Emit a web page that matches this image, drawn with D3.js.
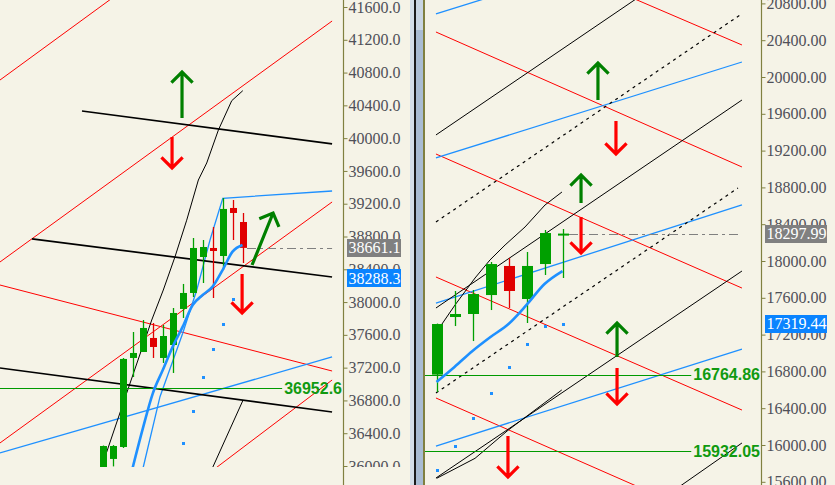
<!DOCTYPE html>
<html><head><meta charset="utf-8">
<script src="https://cdn.jsdelivr.net/npm/d3@7"></script>
<style>body{margin:0;background:#f5f3e7}svg{display:block}</style>
</head><body>
<svg id="c" width="835" height="485"></svg>
<script>
// ---------------- DATA (bar index, price) ----------------
// Left panel candles: [open, high, low, close]
const leftCandles = [
  [35900,36250,35850,36244],[36086,36255,35995,36244],[36232,37318,36220,37306],
  [37318,37635,37086,37379],[37391,37781,37391,37684],[37562,37745,37318,37452],
  [37318,37720,37257,37586],[37476,37928,37135,37867],[37916,38221,37806,38111],
  [38111,38782,38062,38660],[38550,38757,38233,38672],[38660,38916,38050,38623],
  [38562,39270,38391,39136],[39148,39245,38757,39087],[38977,39087,38477,38661.1]
];
const leftMAStart = 2;
const leftMA = [35500,35991,36460,36887,37171,37456,37700,37964,38086,38188,38391,38615,38696];
const leftSARStart = 8;
const leftSAR = [36285,36675,37090,37431,37733,38041];
const leftTicks = [36000,36400,36800,37200,37600,38000,38400,38800,39200,39600,40000,40400,40800,41200,41600];
const leftRedLines = [
  [[-10.34,40709],[1.5,41760]],
  [[-10.34,38489],[22.99,41429]],
  [[-10.34,36281],[22.99,39221]],
  [[10.5,35900],[22.99,37049]],
  [[-10.34,38208],[22.99,37159]]
];
const leftBlackThick = [
  [[-2.11,40331],[22.99,39929]],
  [[-7.13,38770],[22.99,38306]],
  [[-10.34,37196],[22.99,36659]]
];
const leftBlackThin = [
  [[-0.4,35850],[-0.13,35991],[2.38,36891],[4.89,37781],[6.05,38147],[7.23,38554],[8.40,38999],[9.57,39489],[10.41,39697],[11.58,40099],[12.92,40457],[14.03,40579]],
  [[10.7,35900],[14.06,36805]]
];
const leftBlueThin = [
  [[-10.34,36159],[22.99,37330]],
  [[3.7,35800],[4.05,35991],[5.72,36846],[8.0,37619],[9.41,38147],[10.74,38757],[12.02,39266],[22.99,39355]]
];
const leftLevel = 36952.6;
const leftLastPrice = 38661.1;
const leftBluePrice = 38288.3;
const leftLineEnd = 22.99;
const leftUpArrows = [[[7.93,40246],[7.93,40807]],[[14.96,38452],[17.07,39087]]];
const leftDownArrows = [[[6.93,40014],[6.93,39636]],[[13.96,38343],[13.96,37867]]];

// Right panel
const rightCandles = [
  [16764.86,17320,16576,17315],[17391,17674,17293,17424],[17424,17685,17130,17641],
  [17630,17989,17467,17967],[17946,18033,17489,17674],[17587,18098,17326,17946],
  [17967,18337,17848,18304],[18283,18348,17815,18297.99]
];
const rightMA = [16685,16848,17022,17174,17315,17522,17750,17891];
const rightSAR = [15728,15992,16290,16568,16851,17094,17297,17319.44];
const rightTicks = [15600,16000,16400,16800,17200,17600,18000,18400,18800,19200,19600,20000,20400,20800];
const rightRedLines = [
  [[10.5,20891],[16.97,20348]],
  [[-0.03,20489],[16.97,19022]],
  [[-0.03,19163],[16.97,17706]],
  [[-0.03,17826],[16.97,16380]],
  [[-0.03,16511],[16.97,15050]]
];
const rightBlackLines = [
  [[-0.03,19370],[12,20970]],
  [[-0.03,17489],[16.97,19750]],
  [[-0.03,15641],[16.97,17891]],
  [[13.0,15480],[16.97,16022]],
  [[0.01,17231],[1.03,17522],[2.14,17815],[2.97,18011],[3.81,18174],[4.92,18370],[6.03,18609],[6.97,18750]],
  [[0.01,15638],[2.14,15855],[3.99,16163],[6.96,16598]]
];
const rightDashedLines = [
  [[-0.03,18424],[16.86,20674]],
  [[-0.03,16565],[16.75,18793]]
];
const rightBlueThin = [
  [[-0.03,20685],[16.97,21728]],
  [[-0.03,19120],[16.97,20163]],
  [[-0.03,17543],[16.97,18609]],
  [[-0.03,15989],[16.97,17043]]
];
const rightLevels = [16764.86, 15932.05];
const rightLastPrice = 18297.99;
const rightBluePrice = 17319.44;
const rightLineEnd = 16.97;
const rightUpArrows = [[[8.97,19750],[8.97,20152]],[[8.03,18630],[8.03,18935]],[[10.03,16956],[10.03,17326]]];
const rightDownArrows = [[[9.97,19522],[9.97,19163]],[[8.03,18478],[8.03,18087]],[[10.03,16837],[10.03,16445]],[[3.97,16098],[3.97,15652]]];

// ---------------- DRAW ----------------
const svg = d3.select('#c');
const BG = '#f5f3e7', RED = '#ff0000', GREEN_C = '#00a000', RED_C = '#e00000',
      BLUE = '#1e90ff', OLIVE = '#808040', ARROW_G = '#008000', LEVEL_G = '#009a00';
svg.append('rect').attr('width',835).attr('height',485).attr('fill',BG);
const defs = svg.append('defs');
function clip(id,x,y,w,h){defs.append('clipPath').attr('id',id).append('rect').attr('x',x).attr('y',y).attr('width',w).attr('height',h);}
clip('clipL',0,0,343,467); clip('clipR',425,0,336,485);
clip('clipLA',343,0,70,467); clip('clipRA',761,0,74,485);

const xL = d3.scaleLinear().domain([0,14]).range([103,242.5]);
const yL = d3.scaleLinear().domain([36000,41600]).range([466,7]);
const xR = d3.scaleLinear().domain([0,7]).range([436.5,562.5]);
const yR = d3.scaleLinear().domain([16000,20000]).range([445,77]);

function arrow(g,p0,p1,color,a){
  const dx=p1[0]-p0[0], dy=p1[1]-p0[1], L=Math.hypot(dx,dy);
  const bx=-dx/L, by=-dy/L, c=Math.SQRT1_2;
  const l=[p1[0]+a*(bx*c-by*c), p1[1]+a*(bx*c+by*c)];
  const r=[p1[0]+a*(bx*c+by*c), p1[1]+a*(-bx*c+by*c)];
  g.append('path').attr('d',`M${p0}L${p1}M${l}L${p1}L${r}`)
    .attr('fill','none').attr('stroke',color).attr('stroke-width',3.2)
    .attr('stroke-linejoin','miter');
}

function panel(o){
  const g = svg.append('g').attr('clip-path',`url(#${o.clip})`);
  const line = d3.line().x(d=>o.x(d[0])).y(d=>o.y(d[1]));
  const drawLines = (arr,color,w,dash)=>arr.forEach(pts=>{
    const p=g.append('path').attr('d',line(pts)).attr('fill','none')
      .attr('stroke',color).attr('stroke-width',w);
    if(dash) p.attr('stroke-dasharray',dash);
  });
  drawLines(o.red,RED,1);
  drawLines(o.blueThin,BLUE,1.3);
  drawLines(o.blackThick||[],'#000',1.7);
  drawLines(o.black,'#000',1);
  drawLines(o.dashed||[],'#000',1.2,'3,4');
  // green levels
  o.levels.forEach(v=>{
    const t=svg.append('text').attr('x',o.axisX-1).attr('y',o.y(v)).attr('dy','0.36em')
      .attr('text-anchor','end').attr('font-family','Liberation Sans, Arial, sans-serif')
      .attr('font-weight','bold').attr('font-size',16).attr('fill','#109a10').text(v.toFixed(o.dec));
    const w=t.node().getComputedTextLength();
    g.append('line').attr('x1',o.x0).attr('x2',o.axisX-1-w-2)
      .attr('y1',Math.round(o.y(v))+0.5).attr('y2',Math.round(o.y(v))+0.5)
      .attr('stroke',LEVEL_G).attr('stroke-width',1);
  });
  // last price dash-dot
  const n=o.candles.length-1;
  g.append('line').attr('x1',o.x(n)+o.cw/2+1).attr('x2',o.x(o.lineEnd))
    .attr('y1',Math.round(o.y(o.last))+0.5).attr('y2',Math.round(o.y(o.last))+0.5)
    .attr('stroke','#808080').attr('stroke-width',1).attr('stroke-dasharray','9,4,3,4');
  // candles
  o.candles.forEach((c,i)=>{
    const [op,hi,lo,cl]=c, col = cl>=op?GREEN_C:RED_C;
    const xc=Math.round(o.x(i));
    g.append('line').attr('x1',xc+0.5).attr('x2',xc+0.5).attr('y1',o.y(hi)).attr('y2',o.y(lo))
      .attr('stroke',col).attr('stroke-width',1.3);
    const y1=o.y(Math.max(op,cl)), y2=o.y(Math.min(op,cl));
    g.append('rect').attr('x',xc+0.5-o.cw/2).attr('width',o.cw)
      .attr('y',y1).attr('height',Math.max(2,y2-y1)).attr('fill',col);
  });
  // MA
  g.append('path').attr('d',d3.line().curve(d3.curveMonotoneX).x((d,i)=>o.x(i+o.maStart)).y(d=>o.y(d))(o.ma))
    .attr('fill','none').attr('stroke',BLUE).attr('stroke-width',2.6);
  // SAR dots
  o.sar.forEach((v,i)=>g.append('rect').attr('x',Math.round(o.x(i+o.sarStart))-1).attr('y',Math.round(o.y(v))-1)
    .attr('width',3).attr('height',3).attr('fill',BLUE));
  // arrows
  o.up.forEach(a=>arrow(g,[o.x(a[0][0]),o.y(a[0][1])],[o.x(a[1][0]),o.y(a[1][1])],ARROW_G,15));
  o.down.forEach(a=>arrow(g,[o.x(a[0][0]),o.y(a[0][1])],[o.x(a[1][0]),o.y(a[1][1])],RED,15));
  // axis
  svg.append('line').attr('x1',o.axisX+0.5).attr('x2',o.axisX+0.5).attr('y1',0).attr('y2',485)
    .attr('stroke',OLIVE).attr('stroke-width',1.2);
  const axOuter=svg.append('g').attr('clip-path',`url(#${o.aclip})`);
  const ax=axOuter.append('g')
    .attr('transform',`translate(${o.axisX+0.5},0)`)
    .call(d3.axisRight(o.y).tickValues(o.ticks).tickFormat(d3.format(`.${o.dec}f`)).tickSize(4).tickPadding(1));
  ax.select('.domain').remove();
  ax.selectAll('line').attr('stroke',OLIVE);
  ax.selectAll('text').attr('font-family','Liberation Serif, Times New Roman, serif')
    .attr('font-size',16).attr('fill','#4f5058');
  // price boxes
  [[o.last,'#808080'],[o.bluePrice,'#0a84ff']].forEach(([v,col])=>{
    const yc=o.y(v);
    svg.append('rect').attr('x',o.axisX+4).attr('y',Math.round(yc)-9).attr('width',o.boxW).attr('height',18).attr('fill',col);
    svg.append('text').attr('x',o.axisX+5.5).attr('y',yc).attr('dy','0.34em')
      .attr('font-family','Liberation Serif, Times New Roman, serif').attr('font-size',16)
      .attr('fill','#ffffff').text(v.toFixed(o.dec));
  });
}

panel({clip:'clipL',aclip:'clipLA',x:xL,y:yL,x0:0,axisX:343,cw:7,dec:1,boxW:54,
  candles:leftCandles,ma:leftMA,maStart:leftMAStart,sar:leftSAR,sarStart:leftSARStart,
  red:leftRedLines,blackThick:leftBlackThick,black:leftBlackThin,blueThin:leftBlueThin,
  levels:[leftLevel],last:leftLastPrice,bluePrice:leftBluePrice,lineEnd:leftLineEnd,
  ticks:leftTicks,up:leftUpArrows,down:leftDownArrows});

panel({clip:'clipR',aclip:'clipRA',x:xR,y:yR,x0:425,axisX:761,cw:11,dec:2,boxW:62,
  candles:rightCandles,ma:rightMA,maStart:0,sar:rightSAR,sarStart:0,
  red:rightRedLines,black:rightBlackLines,dashed:rightDashedLines,blueThin:rightBlueThin,
  levels:rightLevels,last:rightLastPrice,bluePrice:rightBluePrice,lineEnd:rightLineEnd,
  ticks:rightTicks,up:rightUpArrows,down:rightDownArrows});

// separator between the two windows
svg.append('rect').attr('x',410).attr('y',0).attr('width',4).attr('height',485).attr('fill','#d5dfe9');
svg.append('rect').attr('x',414).attr('y',0).attr('width',2).attr('height',485).attr('fill','#1c1c1c');
svg.append('rect').attr('x',416).attr('y',0).attr('width',7).attr('height',485).attr('fill','#a9bcd3');
svg.append('rect').attr('x',416).attr('y',0).attr('width',7).attr('height',30).attr('fill','#c9d5e3');
svg.append('rect').attr('x',423).attr('y',0).attr('width',2).attr('height',485).attr('fill',OLIVE);
</script>
</body></html>
